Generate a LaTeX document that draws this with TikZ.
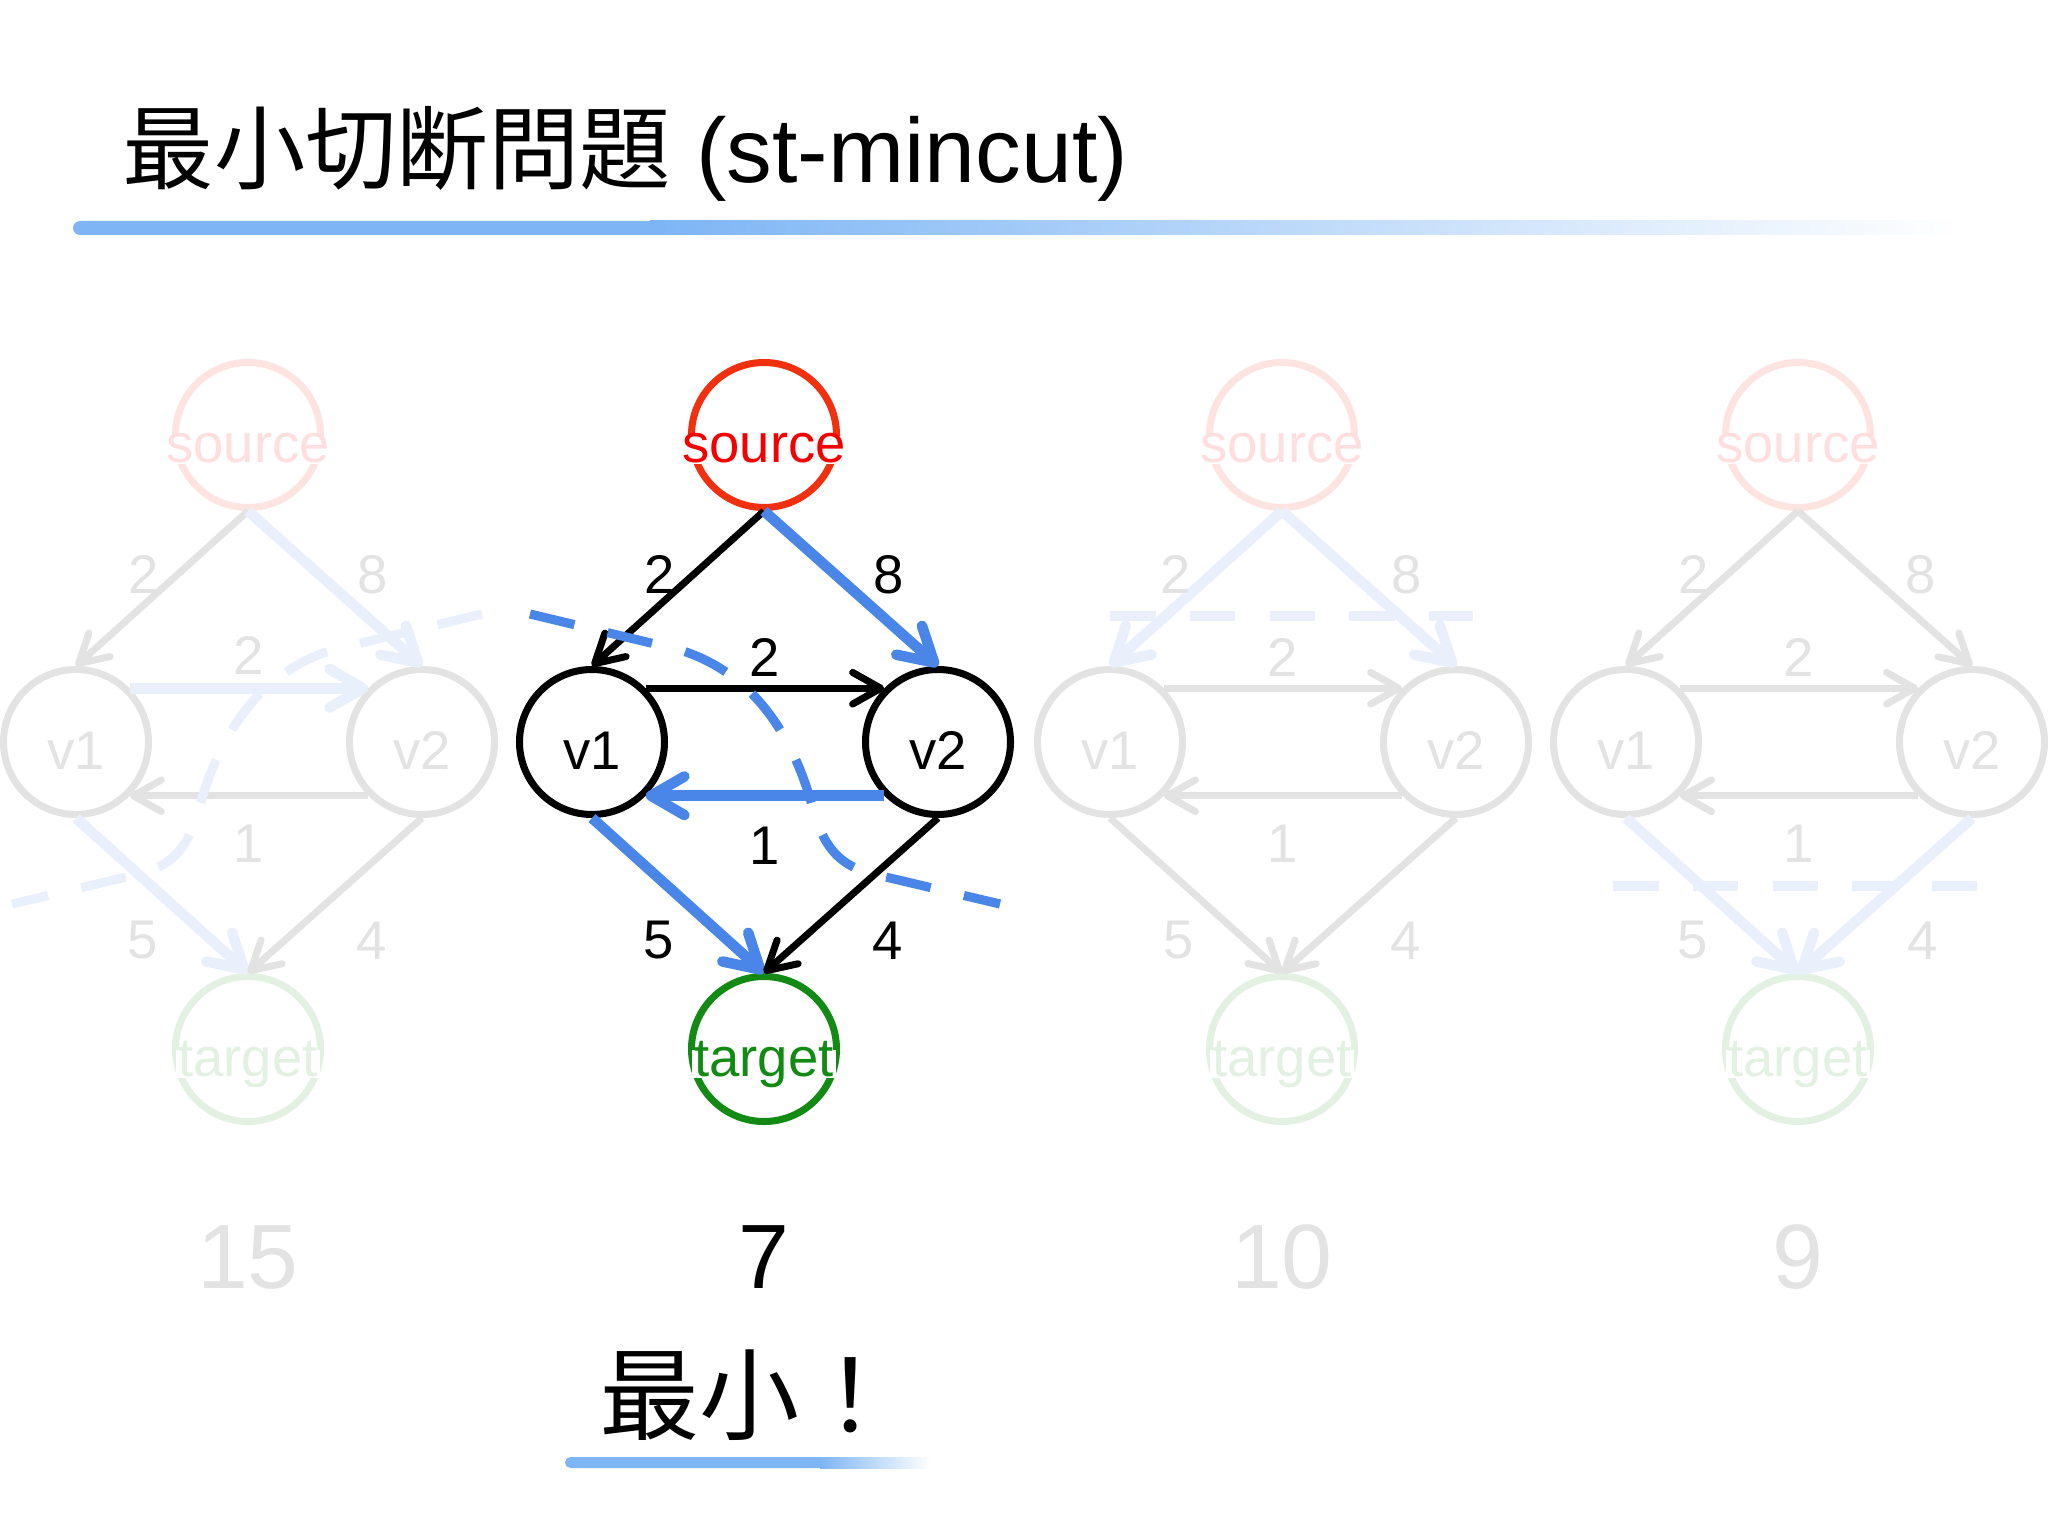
\documentclass[tikz,border=0pt]{standalone}
\usepackage{fontspec}
\setmainfont{Liberation Sans}
\newfontfamily\jpfont{Noto Sans CJK JP}
\usepackage{tikz}
\usetikzlibrary{positioning, arrows.meta}
\definecolor{ink}{HTML}{000000}
\definecolor{srcred}{HTML}{F0300F}
\definecolor{srctext}{HTML}{F50000}
\definecolor{tgtgreen}{HTML}{138A13}
\definecolor{cutblue}{HTML}{4A86E8}
\definecolor{barblue}{HTML}{7DB5F5}
% one s-t graph: #1 prefix, #2 x of the source,
% #3--#8 styles of s-v1, s-v2, v1-v2, v2-v1, v1-t, v2-t
\NewDocumentCommand{\stgraph}{m m m m m m m m}{%
  \node[main, draw=srcred] (#1s) at (#2,-4.35) {};
  \node[main] (#1v1) [below left=3.07cm and 1.72cm of #1s] {};
  \node[main] (#1v2) [below right=3.07cm and 1.74cm of #1s] {};
  \node[main, draw=tgtgreen] (#1t) [below=6.14cm of #1s] {};
  \node[word, text=srctext] (#1sname) at ([yshift=-0.27cm]#1s.center) {source};
  \node[word] (#1v1name) at ([yshift=-0.27cm]#1v1.center) {v1};
  \node[word] (#1v2name) at ([yshift=-0.27cm]#1v2.center) {v2};
  \node[word, text=tgtgreen] (#1tname) at ([yshift=-0.27cm]#1t.center) {target};

  \draw[#3] (#1s.south) -- node[weight, pos=0.41, left=0.15cm] (#1w1) {2} (#1v1.north);
  \draw[#4] (#1s.south) -- node[weight, pos=0.41, right=0.33cm] (#1w2) {8} (#1v2.north);
  \draw[#5] (#1v1.north east) -- node[weight, above=0.08cm] (#1w3) {2} (#1v2.north west);
  \draw[#6] (#1v2.south west) -- node[weight, below=0.26cm] (#1w4) {1} (#1v1.south east);
  \draw[#7] (#1v1.south) -- node[weight, pos=0.79, left=0.49cm] (#1w5) {5} (#1t.north);
  \draw[#8] (#1v2.south) -- node[weight, pos=0.79, right=0.68cm] (#1w6) {4} (#1t.north);
}

\begin{document}
\begin{tikzpicture}[on grid, >={Straight Barb[length=5pt 1.5, width=5pt 2, round]},
    main/.style = {draw=ink, circle, line width=2pt, minimum size=1.45cm, inner sep=0pt},
    word/.style = {fill=white, inner sep=0.6pt, anchor=base, text height=0.68em, text depth=0pt,
                   text=ink, font=\fontsize{15.5}{18}\selectfont},
    weight/.style = {inner sep=0pt, text=ink, font=\fontsize{15.5}{18}\selectfont},
    darkarc/.style = {->, draw=ink, line width=2pt},
    bluearc/.style = {->, draw=cutblue, line width=3pt},
    cutline/.style = {draw=cutblue, line width=2.6pt, dash pattern=on 13pt off 9.7pt},
    faded/.code = {\colorlet{ink}{black!11}\colorlet{srcred}{srcred!13}%
                   \colorlet{srctext}{srctext!13}\colorlet{tgtgreen}{tgtgreen!12}%
                   \colorlet{cutblue}{cutblue!12}},
    total/.style = {anchor=base, inner sep=0pt, text=ink, font=\fontsize{26}{30}\selectfont}]
    \useasboundingbox (0,0) rectangle (20.48,-15.36);
    \fill[white] (0,0) rectangle (20.48,-15.36);

    % title
    \node[anchor=base west, inner sep=0pt, font=\fontsize{26}{30}\selectfont] (title) at (1.22,-1.83)
        {{\jpfont 最小切断問題} (st-mincut)};
    \fill[barblue, rounded corners=0.07cm] (0.73,-2.21) rectangle (6.6,-2.35);
    \shade[left color=barblue, right color=white] (6.5,-2.21) rectangle (19.6,-2.35);

    % the other cuts, faded
    \begin{scope}[faded]
        \stgraph{A}{2.48}{darkarc}{bluearc}{bluearc}{darkarc}{bluearc}{darkarc}
        \draw[cutline] (4.82,-6.14) -- (3.32,-6.50) .. controls (2.52,-6.75) and (2.17,-7.45) .. (2.00,-8.05)
            .. controls (1.87,-8.55) and (1.67,-8.70) .. (1.22,-8.78) -- (0.12,-9.04);
        \node[total] (sumA) at (2.48,-12.88) {15};

        \stgraph{C}{12.82}{bluearc}{bluearc}{darkarc}{darkarc}{darkarc}{darkarc}
        \draw[cutline] (11.10,-6.16) -- (14.73,-6.16);
        \node[total] (sumC) at (12.82,-12.88) {10};

        \stgraph{D}{17.98}{darkarc}{darkarc}{darkarc}{darkarc}{bluearc}{bluearc}
        \draw[cutline] (16.13,-8.86) -- (19.77,-8.86);
        \node[total] (sumD) at (17.98,-12.88) {9};
    \end{scope}

    % the minimum cut
    \stgraph{B}{7.64}{darkarc}{bluearc}{darkarc}{bluearc}{bluearc}{darkarc}
    \draw[cutline] (5.30,-6.14) -- (6.80,-6.50) .. controls (7.60,-6.75) and (7.95,-7.45) .. (8.12,-8.05)
        .. controls (8.25,-8.55) and (8.45,-8.70) .. (8.90,-8.78) -- (10.0,-9.04);
    \node[total] (sumB) at (7.64,-12.88) {7};

    \node[anchor=base west, inner sep=0pt, font=\fontsize{28.5}{32}\selectfont\jpfont] (best) at (5.99,-14.32) {最小！};
    \fill[barblue, rounded corners=0.055cm] (5.65,-14.57) rectangle (8.3,-14.68);
    \shade[left color=barblue, right color=white] (8.2,-14.57) rectangle (9.3,-14.68);
\end{tikzpicture}
\end{document}
